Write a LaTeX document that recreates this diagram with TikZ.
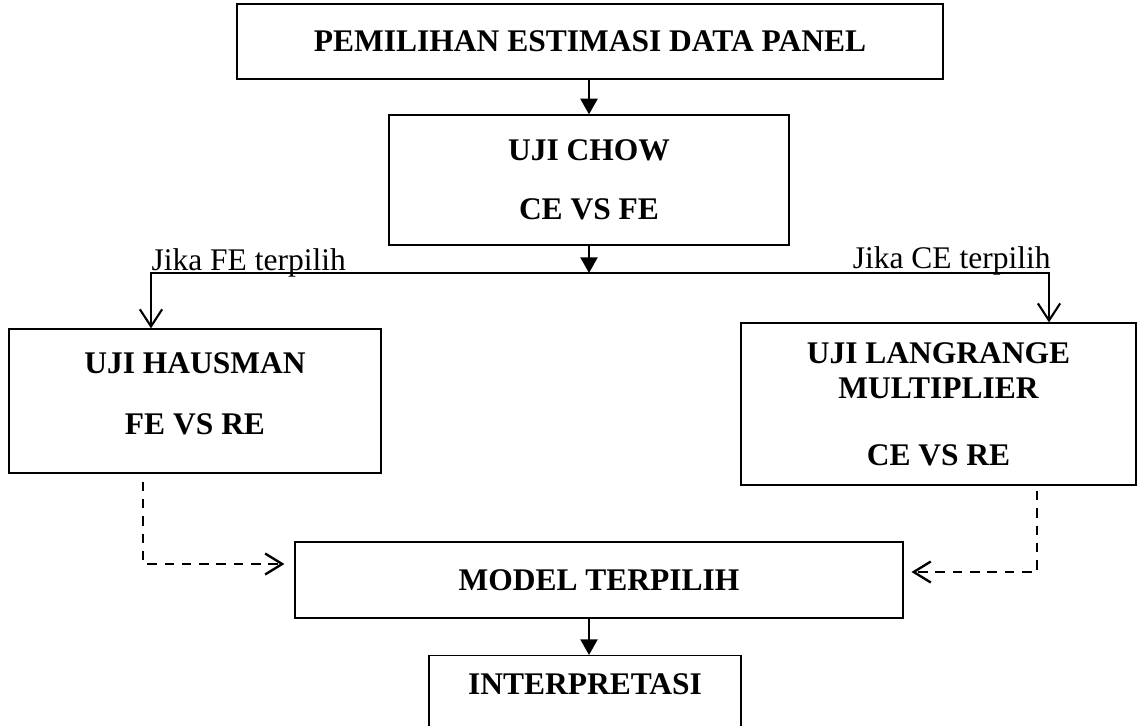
\documentclass[tikz,border=0pt]{standalone}
\usepackage{fontspec}
\setmainfont{Liberation Serif}
\usetikzlibrary{arrows.meta}

\tikzset{
  kotak/.style={draw, line width=0.5pt, font=\fontsize{12}{14.5}\selectfont\bfseries, align=center, inner sep=0pt},
  teks/.style={inner sep=0pt, font=\fontsize{12}{14.5}\selectfont},
  garis/.style={line width=0.8pt},
  panah/.style={-{Triangle[length=6pt,width=6.5pt]}, line width=0.9pt},
  panahbuka/.style={-{Straight Barb[length=6.5pt,width=8.5pt]}, line width=0.8pt},
  putus/.style={dash pattern=on 3.6pt off 3pt, line width=0.9pt, -{Straight Barb[length=6.5pt,width=8pt]}}
}

\begin{document}
\begin{tikzpicture}[x=0.381pt, y=-0.381pt]

\clip (0,0) rectangle (1139,725);

\def\xpanah{589}
\def\ycabang{273}
\def\xkiri{151}
\def\xkanan{1049}

% kotak
\node[kotak, minimum width=269pt, minimum height=28.6pt] (pemilihan) at (590,41.5) {PEMILIHAN ESTIMASI DATA PANEL};
\node[kotak, minimum width=152.4pt, minimum height=49.5pt] (chow) at (\xpanah,180) {UJI CHOW\\[8pt]CE VS FE};
\node[kotak, minimum width=141.7pt, minimum height=54.9pt] (hausman) at (195,401) {UJI HAUSMAN\\[8.7pt]FE VS RE\\[-9pt]\mbox{}};
\node[kotak, minimum width=150.5pt, minimum height=61.7pt] (lm) at (938.5,404) {UJI LANGRANGE\\[-1.2pt]MULTIPLIER\\[11pt]CE VS RE};
\node[kotak, minimum width=231.6pt, minimum height=29pt] (model) at (599,580) {MODEL TERPILIH};
\node[kotak, anchor=north, minimum width=118.9pt, inner ysep=6.7pt, text height=8pt, text depth=40pt] (interpretasi) at (585,655) {INTERPRETASI};

% cabang uji chow
\coordinate (cabang) at (\xpanah,\ycabang);
\coordinate (cabangkiri) at (\xkiri,\ycabang);
\coordinate (cabangkanan) at (\xkanan,\ycabang);

\draw[panah] (pemilihan.south -| chow.north) -- (chow.north);
\draw[panah] (chow.south) -- (cabang);
\draw[panahbuka] (cabang) -- (cabangkiri) -- (cabangkiri |- hausman.north);
\draw[panahbuka] (cabang) -- (cabangkanan) -- (cabangkanan |- lm.north);

\node[teks, anchor=base west] (jikafe) at (\xkiri,270) {Jika FE terpilih};
\node[teks, anchor=base east] (jikace) at (1051,268) {Jika CE terpilih};

% garis putus ke model terpilih
\coordinate (belokkiri) at (143,564);
\coordinate (belokkanan) at (1037,572);

\draw[putus, shorten <=3pt, shorten >=3.8pt] (hausman.south -| belokkiri) -- (belokkiri) -- (model.west |- belokkiri);
\draw[putus, shorten <=2pt, shorten >=3pt] (lm.south -| belokkanan) -- (belokkanan) -- (model.east |- belokkanan);

\draw[panah] (model.south -| chow.south) -- (interpretasi.north -| chow.south);

\end{tikzpicture}
\end{document}
